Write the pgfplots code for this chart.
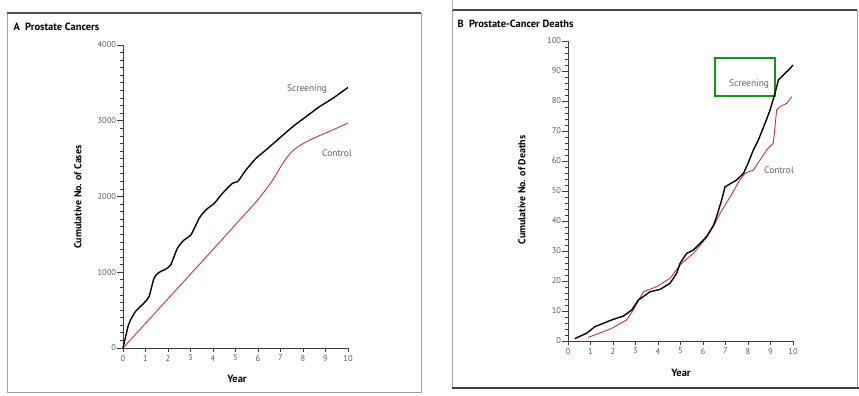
\documentclass[border=0pt]{standalone}
\usepackage{pgfplots}
\pgfplotsset{compat=1.18}
\usepackage{fontspec}
\setmainfont{PT Sans}
\definecolor{ctrl}{RGB}{196,48,78}
\definecolor{axgray}{RGB}{60,60,60}
\definecolor{lblgray}{RGB}{95,95,95}
\definecolor{boxgreen}{RGB}{20,150,20}
\pgfplotsset{
  panel/.style={
    scale only axis, axis lines*=left, enlargelimits=false,
    xmin=0, xmax=10, xtick={0,...,10},
    axis line style={axgray, line width=1bp},
    every tick/.style={axgray, line width=0.8bp},
    tick align=outside, major tick length=3.5bp,
    tick label style={font=\fontsize{8.5}{9}\selectfont, text=lblgray},
    /pgf/number format/assume math mode=true,
    /pgf/number format/set thousands separator={},
    xtick pos=bottom, ytick pos=left,
    extra y tick labels={},
    extra y tick style={major tick length=6bp},
    clip=false,
  }
}
\begin{document}
\begin{tikzpicture}
\begin{scope}[x=1bp,y=1bp]
\useasboundingbox (0,0) rectangle (859,395);
% frames
\draw[gray!75, line width=0.8bp] (7,3) rectangle (421,382);
\draw[gray!60!black, line width=1.8bp] (7,382) -- (421,382);
\draw[gray!75, line width=0.8bp] (452,7) rectangle (857,385);
\draw[gray!60!black, line width=1.4bp] (452,385) -- (857,385);
\draw[gray!50!black, line width=1.8bp] (452,7) -- (859,7);
\draw[gray!60, line width=0.8bp] (452,385) -- (452,395);
% titles
\node[anchor=west, font=\fontsize{10.5}{11}\selectfont\bfseries] at (10,368) {A\ \ Prostate Cancers};
\node[anchor=west, font=\fontsize{10.5}{11}\selectfont\bfseries] at (454,371) {B\ \ Prostate-Cancer Deaths};
% axis labels
\node[rotate=90, font=\fontsize{10}{11}\selectfont\bfseries] at (78,198) {Cumulative No. of Cases};
\node[rotate=90, font=\fontsize{10}{11}\selectfont\bfseries] at (522,205) {Cumulative No. of Deaths};
\node[font=\fontsize{10.5}{11}\selectfont\bfseries] at (237,16) {Year};
\node[font=\fontsize{10.5}{11}\selectfont\bfseries] at (681,22) {Year};
% curve labels
\node[font=\fontsize{9.5}{10}\selectfont, text=lblgray] at (307,306) {Screening};
\node[font=\fontsize{9.5}{10}\selectfont, text=lblgray] at (337,242) {Control};
\node[font=\fontsize{9.5}{10}\selectfont, text=lblgray] at (749,311) {Screening};
\node[font=\fontsize{9.5}{10}\selectfont, text=lblgray] at (779,225) {Control};
\draw[boxgreen, line width=2.2bp] (715,299) rectangle (775,337);
\end{scope}

\begin{axis}[panel, at={(123bp,47bp)}, anchor=south west,
  width=225bp, height=303bp, ymin=0, ymax=4000,
  ytick={0,100,...,4000},
  yticklabels={0,,,,,,,,,,1000,,,,,,,,,,2000,,,,,,,,,,3000,,,,,,,,,,4000},
  extra y ticks={0,1000,2000,3000,4000}]
\addplot[ctrl, line width=0.9bp, smooth, tension=0.4] coordinates {
(0,0) (1,325) (2,650) (3,975) (4,1300) (5,1630) (6,1960) (6.66,2220)
(7,2390) (7.25,2500) (7.5,2590) (7.84,2670) (8.44,2765) (9.33,2880) (10,2970)};
\addplot[black, line width=1.4bp, smooth, tension=0.4] coordinates {
(0,0) (0.12,153) (0.22,280) (0.34,373) (0.56,483) (0.93,593) (1.16,681)
(1.38,923) (1.6,997) (1.9,1042) (2.12,1098) (2.42,1318) (2.72,1428)
(3.02,1494) (3.39,1714) (3.69,1824) (4.06,1912) (4.43,2044) (4.87,2176)
(5.1,2198) (5.47,2352) (5.92,2506) (6.36,2616) (6.95,2769) (7.55,2923)
(8.14,3055) (8.74,3187) (9.33,3297) (10,3440)};
\end{axis}

\begin{axis}[panel, at={(568bp,54bp)}, anchor=south west,
  width=225bp, height=300bp, ymin=0, ymax=100,
  ytick={0,2,...,100},
  yticklabels={0,,,,,10,,,,,20,,,,,30,,,,,40,,,,,50,,,,,60,,,,,70,,,,,80,,,,,90,,,,,100},
  extra y ticks={0,10,...,100}]
\addplot[ctrl, line width=0.9bp] coordinates {
(0.9,1.2) (1.94,4.2) (2.6,7) (2.9,10.3) (3.35,16.4) (3.94,18.1)
(4.53,20.9) (5.05,25.9) (5.57,29.2) (6.16,34.5) (6.46,38.1) (6.76,42.6)
(7.2,48) (7.64,53.7) (7.87,55.9) (8.24,57) (8.53,60.3) (8.83,63.7)
(9.12,65.9) (9.2,71.4) (9.27,77) (9.42,78.1) (9.72,79.2) (9.94,81.4)};
\addplot[black, line width=1.4bp] coordinates {
(0.3,0.8) (0.83,2.6) (1.2,4.8) (1.64,6.1) (2.0,7.2) (2.46,8.3) (2.83,10.3)
(3.13,13.7) (3.35,14.8) (3.64,16.4) (4.09,17.2) (4.53,19.2) (4.83,22.6)
(4.98,25.9) (5.27,29.2) (5.57,30.3) (5.87,32.6) (6.16,34.8) (6.46,38.5)
(6.6,41.4) (6.83,47) (6.98,51.4) (7.5,53.7) (7.8,55.9) (8.0,59.2)
(8.24,63.7) (8.46,67) (8.76,72.6) (8.98,77) (9.2,82.6) (9.35,87)
(9.64,89.2) (9.8,90.3) (10.0,92)};
\end{axis}
\end{tikzpicture}
\end{document}
